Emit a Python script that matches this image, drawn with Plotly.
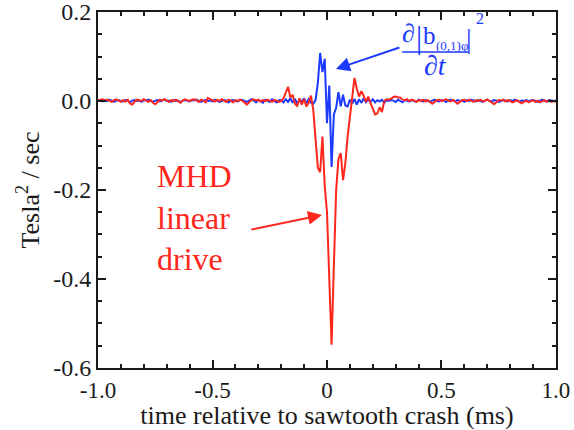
import numpy as np
import plotly.graph_objects as go

# sampling grid (ms), 0.01 ms steps
time_ms = np.round(np.linspace(-1.0, 1.0, 201), 2)

# MHD linear drive (red), Tesla^2/sec
red_left = [
    0.000, 0.003, 0.004, 0.001, 0.003, 0.000, -0.002, 0.002, 0.004, 0.001,
    -0.002, 0.002, -0.001, 0.003, -0.006, -0.008, -0.001, 0.003, 0.002, 0.000,
    0.004, 0.001, -0.002, 0.002, -0.004, -0.007, -0.002, 0.003, 0.001, 0.004,
    0.001, -0.002, 0.002, 0.000, 0.003, -0.001, -0.004, 0.001, 0.004, 0.002,
    0.000, 0.003, 0.004, 0.002, -0.002, 0.003, 0.001, -0.003, 0.007, 0.004,
    0.002, -0.001, 0.003, 0.000, 0.004, 0.001, -0.002, 0.003, 0.001, -0.003,
    0.002, 0.000, 0.003, 0.001, -0.004, -0.008, -0.003, 0.002, 0.004, 0.001,
    0.003, -0.001, 0.002, 0.000, 0.003, 0.001, -0.002, 0.002, 0.001, -0.002,
]
red_mid = [
    0.000, 0.006, 0.020, 0.032, 0.008, 0.014, -0.006, -0.011, 0.006, -0.008,
    0.004, -0.012, -0.004, 0.012, -0.020, -0.090, -0.150, -0.160, -0.080, -0.190,
    -0.250, -0.400, -0.548, -0.370, -0.200, -0.130, -0.117, -0.178, -0.140, -0.080,
    -0.035, 0.005, 0.052, 0.028, 0.010, 0.022, 0.012, -0.002, 0.010, -0.004,
    -0.018, -0.030, -0.028, -0.014, -0.025, 0.000, 0.004, 0.003, 0.005,
]
red_right = [
    0.009, 0.010, 0.008, 0.008, 0.003, 0.002, 0.004, 0.000, 0.003, 0.001,
    -0.002, 0.002, 0.000, 0.003, -0.001, 0.002, -0.003, -0.006, -0.002, 0.002,
    0.003, 0.000, 0.002, 0.004, 0.001, -0.001, 0.003, -0.002, -0.006, -0.002,
    0.002, 0.003, 0.000, 0.003, 0.001, -0.002, 0.002, 0.000, 0.003, -0.001,
    0.001, 0.003, 0.000, -0.003, -0.007, -0.002, 0.002, 0.001, 0.003, -0.001,
    0.002, 0.000, -0.003, -0.001, 0.002, -0.002, -0.005, -0.002, 0.001, -0.003,
    0.000, 0.002, -0.002, 0.001, -0.003, 0.000, 0.002, -0.002, 0.001, -0.002,
    0.000, -0.002,
]

# d|b(0,1)phi|^2/dt (blue), Tesla^2/sec
blue_left = [
    0.002, 0.001, -0.001, 0.002, 0.000, 0.003, 0.001, -0.002, 0.001, 0.002,
    0.000, -0.001, 0.002, 0.001, -0.003, 0.001, 0.002, 0.000, 0.001, -0.002,
    0.002, 0.001, 0.003, 0.000, -0.002, 0.001, 0.002, -0.001, 0.001, 0.003,
    0.000, 0.001, -0.002, 0.002, 0.000, 0.001, -0.003, 0.001, 0.002, 0.000,
    -0.001, 0.002, 0.001, 0.003, 0.000, -0.002, 0.001, 0.002, 0.000, 0.001,
    -0.001, 0.003, 0.001, -0.002, 0.000, 0.002, 0.001, -0.003, 0.001, 0.002,
    0.000, -0.001, 0.002, 0.003, 0.000, -0.002, 0.001, 0.004, 0.001, -0.003,
    0.002, 0.000, -0.004, 0.003, 0.001, -0.002, 0.004, 0.000, -0.003, 0.002,
]
blue_mid = [
    0.002, -0.003, 0.004, -0.002, 0.006, -0.004, 0.005, -0.006, 0.003, -0.002,
    0.006, -0.005, 0.004, -0.004, -0.006, 0.002, 0.040, 0.108, 0.065, 0.095,
    -0.050, 0.035, -0.148, -0.030, -0.015, 0.020, -0.012, 0.014, -0.010, -0.012,
    0.003, -0.006, 0.005, -0.008, 0.004, -0.004, 0.006, -0.003, 0.003, -0.002,
    0.004, -0.003, 0.002, -0.001, 0.003, -0.004, 0.002, 0.000, 0.002,
]
blue_right = [
    0.001, -0.002, 0.003, 0.000, -0.003, 0.002, 0.001, -0.001, 0.002, 0.000,
    -0.002, 0.003, 0.001, -0.001, 0.002, 0.000, -0.002, 0.001, 0.003, 0.000,
    -0.001, 0.002, 0.001, -0.002, 0.000, 0.003, 0.001, -0.001, 0.002, 0.000,
    0.001, -0.002, 0.002, 0.000, 0.003, 0.001, -0.001, 0.002, 0.000, -0.002,
    0.001, 0.003, 0.000, -0.001, 0.002, 0.001, -0.002, 0.000, 0.002, 0.001,
    -0.001, 0.002, 0.000, 0.003, 0.001, -0.002, 0.001, 0.000, 0.002, -0.001,
    0.001, 0.002, 0.000, -0.002, 0.001, 0.003, 0.000, -0.001, 0.002, 0.001,
    0.000, 0.001,
]

mhd_drive = red_left + red_mid + red_right
db_dt = blue_left + blue_mid + blue_right

x_tickvals = [-1.0, -0.5, 0.0, 0.5, 1.0]
x_ticktext = ["-1.0", "-0.5", "0", "0.5", "1.0"]
y_tickvals = [-0.6, -0.4, -0.2, 0.0, 0.2]
y_ticktext = ["-0.6", "-0.4", "-0.2", "0.0", "0.2"]

RED = "rgb(255,38,28)"
BLUE = "rgb(28,58,255)"
FONT = "Liberation Serif"
INK = "#1a1a1a"

fig = go.Figure()
fig.add_trace(go.Scatter(x=time_ms, y=db_dt, mode="lines",
                         line=dict(color=BLUE, width=2)))
fig.add_trace(go.Scatter(x=time_ms, y=mhd_drive, mode="lines",
                         line=dict(color=RED, width=2)))

axis_common = dict(
    showgrid=False, zeroline=False, showline=True, linewidth=2,
    linecolor=INK, mirror="ticks", ticks="inside", ticklen=8,
    tickwidth=2, tickcolor=INK, ticklabeloverflow="allow",
)

fig.update_layout(
    width=574, height=430, autosize=False,
    margin=dict(l=98, r=18, t=12, b=62),
    plot_bgcolor="white", paper_bgcolor="white",
    font=dict(family=FONT),
    showlegend=False,
    xaxis=dict(
        range=[-1.0001, 1.0001], tickmode="array", tickvals=x_tickvals,
        ticktext=x_ticktext,
        tickfont=dict(family=FONT, size=23, color=INK),
        minor=dict(ticks="inside", ticklen=4, tickwidth=2, tickcolor=INK,
                   dtick=0.1, tick0=0, showgrid=False),
        title=dict(text="time relative to sawtooth crash (ms)",
                   font=dict(family=FONT, size=26, color=INK), standoff=3),
        automargin=False,
        **axis_common,
    ),
    yaxis=dict(
        range=[-0.6001, 0.2001], tickmode="array", tickvals=y_tickvals,
        ticktext=y_ticktext,
        tickfont=dict(family=FONT, size=24, color=INK),
        minor=dict(ticks="inside", ticklen=4, tickwidth=2, tickcolor=INK,
                   dtick=0.05, tick0=0, showgrid=False),
        title=dict(text="Tesla<sup>2</sup> / sec",
                   font=dict(family=FONT, size=26, color=INK), standoff=6),
        automargin=False,
        **axis_common,
    ),
)

# red label and arrow
fig.add_annotation(x=-0.75, y=-0.262, xref="x", yref="y",
                   text="MHD<br>linear<br>drive", showarrow=False,
                   xanchor="left", yanchor="middle", align="left",
                   font=dict(family=FONT, size=32, color=RED))
fig.add_annotation(x=-0.022, y=-0.256, xref="x", yref="y", text="",
                   showarrow=True, ax=-72, ay=15, arrowhead=2,
                   arrowsize=1.4, arrowwidth=2, arrowcolor=RED)

# blue arrow
fig.add_annotation(x=0.039, y=0.072, xref="x", yref="y", text="",
                   showarrow=True, ax=65, ay=-22, arrowhead=2,
                   arrowsize=1.4, arrowwidth=2, arrowcolor=BLUE)

# blue formula pieces
def piece(x, y, txt, size):
    fig.add_annotation(x=x, y=y, xref="x", yref="y", text=txt,
                       showarrow=False, xanchor="center", yanchor="middle",
                       font=dict(family=FONT, size=size, color=BLUE))

piece(0.358, 0.152, "∂", 26)
piece(0.402, 0.143, "|", 31)
piece(0.449, 0.148, "b", 25)
piece(0.546, 0.124, "(0,1)φ", 13)
piece(0.620, 0.140, "|", 28)
piece(0.668, 0.186, "2", 16)
piece(0.472, 0.080, "∂<i>t</i>", 28)
fig.add_shape(type="line", x0=0.328, x1=0.616, y0=0.110, y1=0.110,
              xref="x", yref="y", line=dict(color=BLUE, width=1.5))

fig.write_html(
    "out.html",
    config={"displayModeBar": False},
    post_script="document.body.style.margin='0';document.body.style.padding='0';",
)
